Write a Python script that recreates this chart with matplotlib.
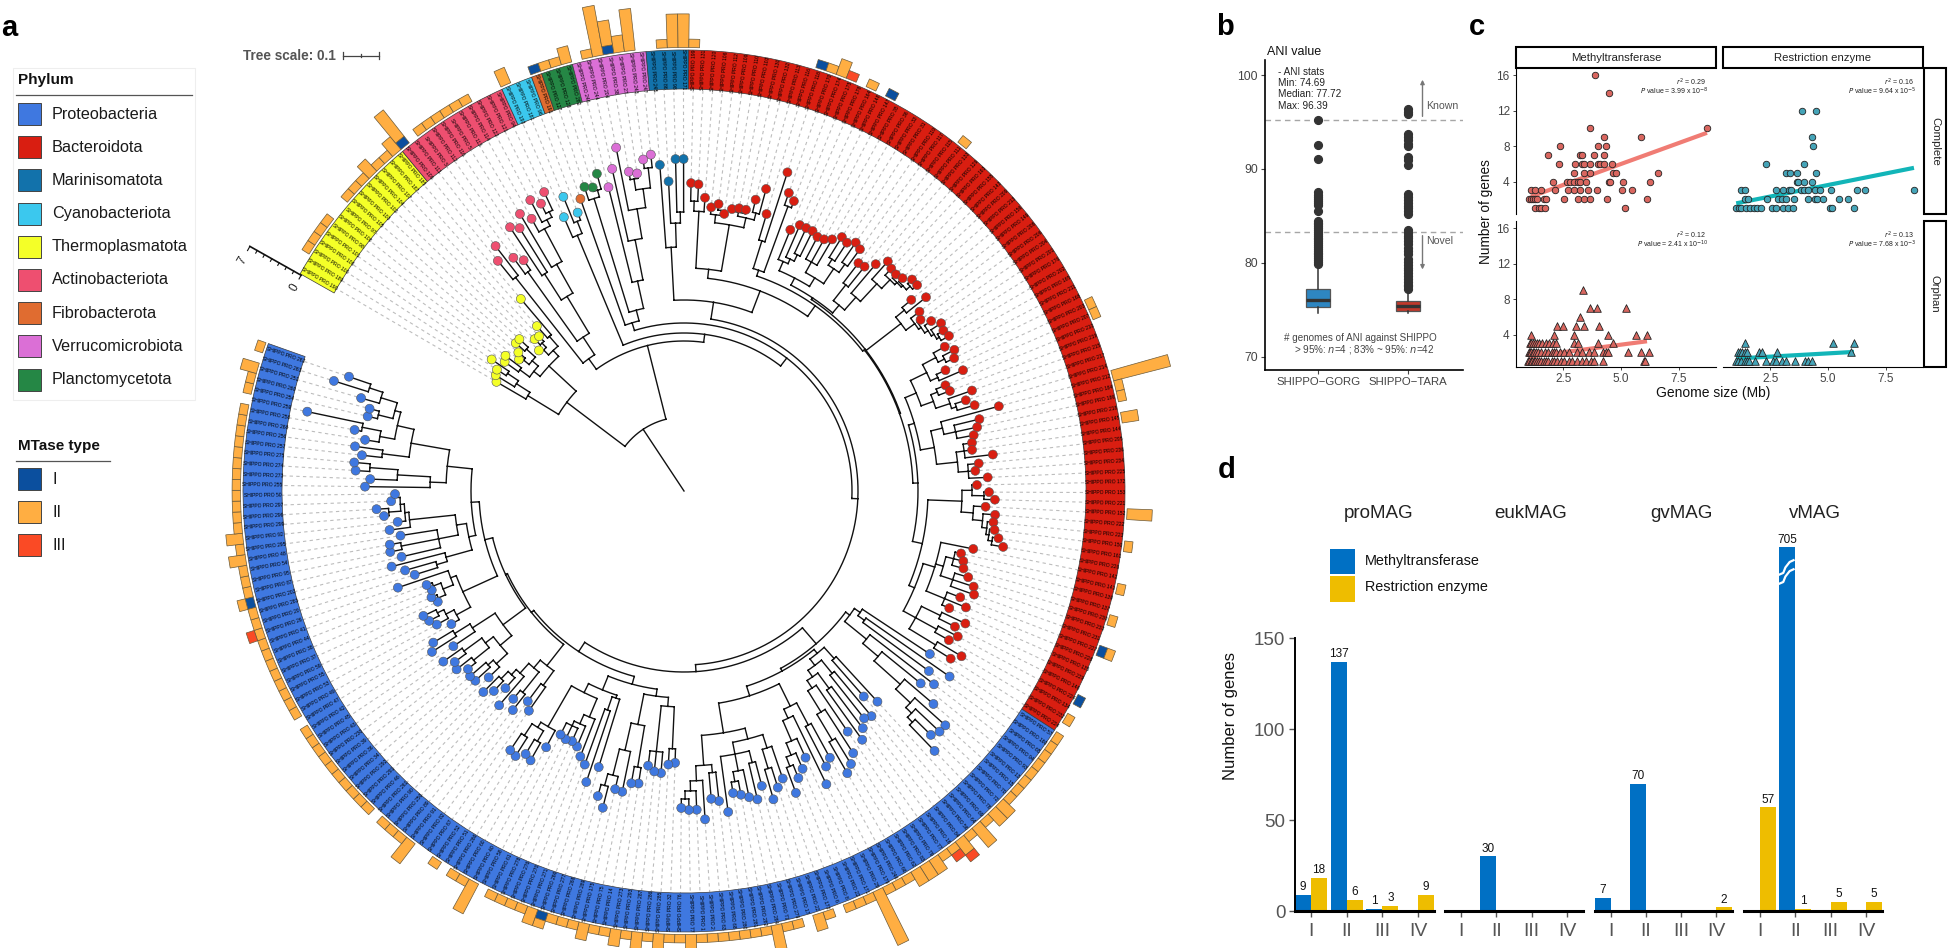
import numpy as np
import matplotlib
matplotlib.use("Agg")
import matplotlib.pyplot as plt
from matplotlib.patches import Rectangle

plt.rcParams['font.family'] = ['Liberation Sans', 'DejaVu Sans']

W, H = 1952, 948

# ---------- panel a data ----------
PHYLA = ['Proteobacteria', 'Bacteroidota', 'Marinisomatota', 'Cyanobacteriota', 'Thermoplasmatota',
         'Actinobacteriota', 'Fibrobacterota', 'Verrucomicrobiota', 'Planctomycetota']
PHYLUM_COLORS = ['#3F78E0', '#D91E11', '#1272AB', '#3BC8EE', '#F4FF28', '#EE4F70', '#E06C30', '#DB6FD6', '#258745']
# order of the phyla round the ring, clockwise from the scale ruler
RING_PHYLA = ['Thermoplasmatota', 'Actinobacteriota', 'Cyanobacteriota', 'Fibrobacterota', 'Planctomycetota',
              'Verrucomicrobiota', 'Marinisomatota', 'Bacteroidota', 'Proteobacteria']
RING_COUNTS = [15, 11, 3, 1, 3, 7, 4, 88, 120]
MTASE_TYPES = ['I', 'II', 'III']
MTASE_COLORS = ['#0B4F9E', '#FFAE42', '#FA4A25']

LEAF_IDS = [
    190, 189, 100, 106, 101, 98, 108, 97, 105, 103, 102, 104, 107, 187, 185, 109, 111, 3, 112, 116,
    5, 113, 114, 122, 121, 94, 193, 181, 96, 191, 127, 128, 282, 246, 244, 204, 38, 27, 243, 247,
    245, 86, 98, 171, 199, 131, 120, 106, 112, 109, 110, 103, 130, 132, 113, 116, 118, 170, 174, 175,
    178, 164, 148, 147, 35, 36, 33, 31, 119, 117, 115, 111, 133, 129, 163, 155, 143, 209, 213, 156,
    149, 208, 206, 204, 201, 176, 202, 165, 211, 168, 203, 207, 210, 219, 215, 217, 214, 212, 184, 186,
    218, 145, 144, 205, 236, 234, 225, 172, 153, 221, 152, 222, 223, 150, 161, 226, 142, 141, 139, 137,
    230, 233, 231, 227, 228, 135, 229, 146, 224, 134, 232, 224, 57, 160, 65, 94, 93, 13, 15, 70,
    72, 78, 69, 64, 56, 84, 16, 77, 79, 83, 62, 66, 246, 179, 29, 171, 22, 8, 6, 173,
    22, 17, 279, 71, 284, 282, 281, 280, 68, 63, 2, 1, 77, 76, 32, 285, 286, 287, 293, 273,
    14, 75, 175, 289, 268, 277, 266, 271, 270, 276, 278, 61, 58, 40, 60, 266, 51, 52, 67, 82,
    91, 89, 250, 90, 261, 46, 291, 292, 34, 36, 39, 230, 43, 45, 42, 47, 49, 53, 55, 59,
    37, 38, 44, 41, 26, 20, 283, 202, 87, 95, 54, 48, 295, 92, 299, 296, 297, 50, 255, 273,
    274, 275, 257, 256, 268, 258, 259, 254, 260, 251, 263, 262,
]

# number of type II genes per leaf
MTASE_II = [
    0, 0, 1, 1, 1, 1, 0, 0, 1, 1, 1, 2, 1, 1, 2, 4, 0, 1, 1, 1,
    1, 1, 1, 0, 0, 0, 2, 0, 0, 0, 1, 1, 2, 0, 1, 6, 3, 2, 5, 0,
    0, 1, 4, 4, 1, 0, 0, 0, 0, 0, 0, 0, 0, 0, 0, 0, 0, 1, 2, 0,
    0, 1, 0, 0, 0, 0, 0, 0, 0, 0, 0, 1, 0, 0, 0, 0, 0, 0, 0, 0,
    0, 0, 0, 0, 0, 0, 0, 0, 0, 0, 1, 1, 0, 0, 0, 0, 0, 7, 1, 1,
    0, 2, 0, 0, 0, 0, 0, 0, 0, 0, 3, 0, 0, 1, 0, 0, 0, 1, 0, 0,
    1, 0, 0, 1, 0, 0, 0, 0, 0, 0, 1, 0, 1, 1, 1, 1, 1, 1, 1, 1,
    2, 2, 1, 3, 1, 2, 1, 1, 2, 2, 2, 1, 1, 1, 7, 1, 1, 1, 0, 1,
    2, 0, 1, 1, 3, 1, 1, 1, 1, 1, 1, 1, 2, 1, 1, 2, 1, 2, 1, 2,
    1, 1, 2, 1, 1, 1, 1, 2, 1, 1, 1, 1, 0, 4, 1, 1, 0, 1, 0, 0,
    3, 1, 1, 1, 0, 1, 1, 1, 1, 1, 1, 1, 1, 1, 1, 0, 1, 1, 1, 1,
    1, 1, 1, 1, 1, 1, 1, 1, 1, 1, 1, 2, 1, 2, 1, 1, 1, 1, 1, 1,
    1, 1, 1, 1, 1, 1, 0, 1, 1, 2, 0, 1,
]
MTASE_I_LEAVES = [15, 29, 36, 56, 63, 123, 128, 186, 227]
MTASE_III_LEAVES = [59, 145, 146, 224]

# tree: every node is (depth, child, child, ...), every tip is its own depth
YELLOW = (147, (183, 217, (199, 221, (212, 223, 233))),
          (184, (192, (204, 221, 224), (200, (207, 211, 216), (212, 224, 224))),
           (192, (199, 202, (205, 213, 212)), (205, 221, 252))))
ACTINO = (163, (272, 296, 309),
          (184, (269, 289, 281), (227, (258, 316, 310), (260, 322, (297, 312, (304, 329, (310, 321, 330)))))))
CYANO = (277, 299, (290, 318, 298))
GREEN = (306, 320, (313, 317, 329))
PURPLE = (215, 313, (256, 330, (286, 350, (305, (316, 324, 321), (325, 334, 338)))))
MARIN = (244, 327, (268, 310, (279, 332, 332)))

R1 = (223, (280, (290, 308, 307), 294),
      (270, (278, 285, (283, 289, 280)), (280, (284, 286, 288, 288), (287, 300, 313))))
R2 = (233, (262, 289, 335), (303, 316, 310))
T1 = (240, (250, 282, (255, 290, (262, 290, 290))),
      (250, (262, 287, 288, 292), (268, (275, 299, 297), (278, 302, 299))))
T2 = (242, (262, 287, 288), (259, 297, (283, 307, (295, 304, (298, 303, (300, 305, (305, 311, 311)))))))
U1 = (274, (285, 297, 310), (285, 296, (288, 292, (292, 300, (295, 307, (298, 305, 307))))))
W1 = (252, (270, (285, 298, (292, 305, 301)), (278, 288, 304)),
      (265, (272, 282, 284), (280, 305, (285, 296, 303))))
X1 = (254, (266, 326, (278, 304, 300, 295)), (275, (283, 292, 291, 311), (285, 296, 292, 304)))
Y1 = (278, (288, 293, (300, 305, 311)), (290, 302, (300, 312, (305, 311, (308, 313, (312, 318, 324))))))
Y2 = (262, 295, (270, (278, 284, 288, 290), (283, 297, 305, 308)), (282, 296, 305, 290))
Y3 = (264, (285, 311, 303), (288, 310, 304), (295, 323, 315))
RED_REST = (234, (240, W1, X1), (244, Y1, (250, Y2, Y3)))
RED = (214, R1, (227, R2, (230, (232, T1, T2), (229, U1, RED_REST))))

C1 = (207, (214, 295, (222, 324, 304)),
      (235, 316, (255, 305, (290, 328, (310, 351, (318, 351, (325, 347, 361)))))))
D1 = (210, (225, 286, 273), (218, (235, 293, 290), (226, (245, 297, 306), (235, 291, (260, 312, (290, 320, 326))))))
G1 = (240, (265, 304, 310), (250, 326, (272, 293, (285, 302, (295, 309, 322)))))
G2 = (256, (270, 304, (290, 311, 321)), (268, (280, 305, 317), (285, 313, (295, 309, 306)), 324))
G3 = (275, (283, 312, 309), (290, 329, (300, 319, (308, 319, 317))))
D2 = (215, G1, (245, G2, G3))
FR = (216, (258, 272, 274), (262, 283, 282, 277))
FS = (238, (280, 296, 297), (266, 307, (293, 306, (305, 327, 317))))
F2 = (215, (218, 289, (232, 307, 291)),
      (225, (245, 285, (255, 277, (260, 274, 275, 273))), (272, 291, (278, (290, 310, 307), (292, 314, 312)))))
J1A = (222, (240, 269, 262), (232, (258, 278, 269), (245, 283, (252, 266, (262, 276, 284)))))
J1B = (225, (240, (255, 270, (262, 282, 283)), (250, (270, 280, 289), (272, 286, 295))), (252, 278, (270, 299, 293)))
J2 = (243, (259, 268, (268, 281, (275, 286, 289))), (249, (260, (268, 270, 274), (268, 271, 274)), 302))
J3 = (220, (247, (258, 282, 290), 302),
      (230, (250, 290, (288, 300, 299), 287), (276, 297, (280, 288, (284, (296, 301, 308), (290, 293, 289))))))
J4 = (238, (254, 319, (287, 314, (315, 329, 331))),
      (277, (304, 324, 332), (294, (309, 323, (328, 335, 385)), (300, (315, 325, 325), (317, 336, (331, 367, 354))))))
BLUE_LEFT = (195, J1A, (197, J1B, (205, J2, (213, J3, J4))))
BLUE = (181, (202, C1, (205, D1, D2)), (192, (200, (207, FR, FS), F2), BLUE_LEFT))

TREE = (74, YELLOW, (150, ACTINO, (158, CYANO, (168, (176, 310, (187, GREEN, PURPLE)),
                                                (174, (191, MARIN, RED), BLUE)))))

# ---------- panel b data ----------
BOX_NAMES = ['SHIPPO\u2212GORG', 'SHIPPO\u2212TARA']
BOX_COLORS = ['#2E86C1', '#C0392B']
BOX_Q1 = [75.35, 74.85]
BOX_MED = [76.0, 75.4]
BOX_Q3 = [77.2, 75.9]
BOX_LOW = [74.7, 74.7]
BOX_HIGH = [79.8, 77.0]
FLIERS_GORG = [79.9, 80.1, 80.3, 80.5, 80.7, 80.9, 81.1, 81.3, 81.5, 81.7, 81.9, 82.1, 82.3, 82.5, 82.7, 82.9,
               83.1, 83.3, 83.5, 83.7, 83.9, 84.1, 84.3, 84.5, 85.5, 86.2, 86.4, 86.6, 86.8, 87.0, 87.2, 87.5,
               91.1, 92.6, 95.2]
FLIERS_TARA = [77.2, 77.5, 77.7, 78.0, 78.3, 78.6, 78.9, 79.2, 79.5, 79.8, 80.1, 80.4, 81.0, 81.3, 81.6, 82.0,
               82.3, 82.6, 82.9, 83.2, 83.5, 85.2, 85.5, 85.8, 86.1, 86.4, 86.7, 87.0, 87.3, 90.4, 91.0, 91.3,
               92.4, 92.7, 93.1, 93.4, 93.7, 95.8, 96.1, 96.4]
ANI_CUTOFFS = [95.2, 83.3]

# ---------- panel c data ----------
MT_COMPLETE_X = [3.88, 4.48, 3.67, 8.71, 4.24, 5.84, 2.37, 3.99, 4.33, 1.86, 3.22, 3.33, 3.84, 4.24,
                 2.33, 3.01, 3.33, 3.39, 3.65, 4.0, 4.1, 4.24, 4.59, 2.97, 3.39, 3.65, 4.67, 4.8, 6.6,
                 2.07, 2.67, 2.8, 2.97, 3.14, 3.22, 3.5, 4.46, 4.52, 5.1, 6.27,
                 1.1, 1.3, 1.54, 2.16, 2.71, 2.97, 3.22, 3.56, 3.97, 5.03, 5.46,
                 1.01, 1.1, 1.18, 1.27, 1.37, 1.65, 1.76, 2.54, 3.14, 3.39, 3.67, 4.41, 6.12,
                 1.27, 1.44, 1.54, 1.73, 5.16]
MT_COMPLETE_Y = [16, 14, 10, 10, 9, 9, 8, 8, 8, 7, 7, 7, 7, 7,
                 6, 6, 6, 6, 6, 6, 6, 6, 6, 5, 5, 5, 5, 5, 5,
                 4, 4, 4, 4, 4, 4, 4, 4, 4, 4, 4,
                 3, 3, 3, 3, 3, 3, 3, 3, 3, 3, 3,
                 2, 2, 2, 2, 2, 2, 2, 2, 2, 2, 2, 2, 2,
                 1, 1, 1, 1, 1]
RE_COMPLETE_X = [3.88, 4.48, 4.29, 4.35, 2.31, 3.97, 3.2, 3.37, 3.67, 4.46, 3.65, 3.69, 3.97, 4.29,
                 1.24, 1.39, 2.73, 3.05, 3.33, 3.41, 3.84, 3.97, 4.12, 4.44, 4.65, 5.12, 6.27, 6.59, 8.71,
                 1.41, 1.56, 2.35, 2.84, 2.99, 3.2, 3.54, 4.12, 4.44, 4.54, 4.78, 5.48, 5.86,
                 1.03, 1.14, 1.24, 1.46, 1.63, 1.78, 1.93, 2.1, 2.59, 2.73, 3.05, 3.27, 3.48, 5.07, 5.18, 6.12]
RE_COMPLETE_Y = [12, 12, 9, 8, 6, 6, 5, 5, 5, 5, 4, 4, 4, 4,
                 3, 3, 3, 3, 3, 3, 3, 3, 3, 3, 3, 3, 3, 3, 3,
                 2, 2, 2, 2, 2, 2, 2, 2, 2, 2, 2, 2, 2,
                 1, 1, 1, 1, 1, 1, 1, 1, 1, 1, 1, 1, 1, 1, 1, 1]
MT_ORPHAN_X = [3.35, 3.65, 3.95, 5.22, 3.24, 2.22, 2.48, 3.05, 3.39, 4.05, 1.12, 2.12, 2.97, 4.44, 5.63, 6.1,
               1.05, 1.12, 1.2, 1.28, 1.36, 1.47, 1.6, 1.75, 1.9, 2.05, 2.2, 2.95, 3.15, 4.0, 4.65,
               1.0, 1.05, 1.1, 1.18, 1.25, 1.33, 1.42, 1.55, 1.7, 1.85, 2.0, 2.1, 2.2, 2.35, 2.55, 2.75, 3.1,
               3.3, 3.6, 3.85, 4.2, 4.35, 4.45, 5.3, 5.85, 6.2,
               0.98, 1.03, 1.1, 1.16, 1.22, 1.3, 1.38, 1.47, 1.55, 1.65, 1.75, 1.85, 2.0, 2.1, 2.25, 2.4, 2.55,
               2.75, 2.9, 3.1, 3.3, 3.5, 3.7, 3.85, 4.2, 6.0, 6.05]
MT_ORPHAN_Y = [9, 7, 7, 7, 6, 5, 5, 5, 5, 5, 4, 4, 4, 4, 4, 4,
               3, 3, 3, 3, 3, 3, 3, 3, 3, 3, 3, 3, 3, 3, 3,
               2, 2, 2, 2, 2, 2, 2, 2, 2, 2, 2, 2, 2, 2, 2, 2, 2,
               2, 2, 2, 2, 2, 2, 2, 2, 2,
               1, 1, 1, 1, 1, 1, 1, 1, 1, 1, 1, 1, 1, 1, 1, 1, 1,
               1, 1, 1, 1, 1, 1, 1, 1, 1, 1]
RE_ORPHAN_X = [1.4, 5.2, 6.1, 1.1, 1.2, 1.3, 1.4, 1.5, 2.0, 2.15, 2.8, 6.0,
               1.0, 1.1, 1.25, 1.4, 1.5, 1.6, 1.85, 2.3, 2.6, 2.75, 3.0, 3.2, 3.55, 4.0, 4.15, 4.3]
RE_ORPHAN_Y = [3, 3, 3, 2, 2, 2, 2, 2, 2, 2, 2, 2,
               1, 1, 1, 1, 1, 1, 1, 1, 1, 1, 1, 1, 1, 1, 1, 1]
FIT_X = [[1.1, 8.71], [1.03, 8.71], [1.0, 6.12], [1.03, 6.12]]
FIT_Y = [[2.3, 9.5], [1.55, 5.55], [1.5, 3.25], [1.3, 2.05]]
FIT_R2 = ['0.29', '0.16', '0.12', '0.13']
FIT_P = [('3.99', '-8'), ('9.64', '-5'), ('2.41', '-10'), ('7.68', '-3')]

# ---------- panel d data ----------
GROUPS = ['proMAG', 'eukMAG', 'gvMAG', 'vMAG']
KINDS = ['I', 'II', 'III', 'IV']
MT_GENES = [[9, 137, 1, 0], [0, 30, 0, 0], [7, 70, 0, 0], [0, 705, 0, 0]]
RE_GENES = [[18, 6, 3, 9], [0, 0, 0, 0], [0, 0, 0, 2], [57, 1, 5, 5]]
Y_CAP = 200


def px_axes(fig, left, top, right, bottom, **kw):
    return fig.add_axes([left / W, 1 - bottom / H, (right - left) / W, (bottom - top) / H], **kw)


fig = plt.figure(figsize=(W / 100, H / 100), dpi=100)

# ---------- panel a: circular tree ----------
CX, CY, R_MAX = 684, 491, 520
RING_IN, RING_OUT, BAR_BASE, BAR_UNIT = 402, 441, 443.5, 8.4
LEAF_START, LEAF_STEP = 149.8, 1.389

ax = px_axes(fig, CX - R_MAX, CY - R_MAX, CX + R_MAX, CY + R_MAX, projection='polar')
ax.set_ylim(0, R_MAX)
ax.set_axis_off()

tip_depth = []
tree_t, tree_r = [], []


def add_line(t, r):
    tree_t.extend(list(t) + [np.nan])
    tree_r.extend(list(r) + [np.nan])


def place(node):
    if isinstance(node, int):
        tip_depth.append(node)
        return LEAF_START - (len(tip_depth) - 1) * LEAF_STEP, node
    depth = node[0]
    kids = [place(c) for c in node[1:]]
    a0, a1 = kids[0][0], kids[-1][0]
    add_line(np.radians(np.linspace(a0, a1, max(3, int(abs(a0 - a1)) + 2))), [depth] * max(3, int(abs(a0 - a1)) + 2))
    for a, d in kids:
        add_line(np.radians([a, a]), [depth, d])
    return (a0 + a1) / 2, depth


root_angle, root_depth = place(TREE)
add_line(np.radians([root_angle, root_angle]), [0, root_depth])
n_leaves = len(tip_depth)

leaf_deg = LEAF_START - np.arange(n_leaves) * LEAF_STEP
leaf_rad = np.radians(leaf_deg)
step_rad = np.radians(LEAF_STEP)
tip_depth = np.array(tip_depth)
tip_colors = []
for name, count in zip(RING_PHYLA, RING_COUNTS):
    tip_colors += [PHYLUM_COLORS[PHYLA.index(name)]] * count

# dashed leaders, then the branches, then the tips
lead_t, lead_r = [], []
for a, d in zip(leaf_rad, tip_depth):
    lead_t += [a, a, np.nan]
    lead_r += [d + 4, RING_IN, np.nan]
ax.plot(lead_t, lead_r, color='#bdbdbd', lw=0.8, ls=(0, (3, 3)), zorder=1)
ax.plot(tree_t, tree_r, color='#111111', lw=1.0, zorder=2, solid_capstyle='projecting')
ax.scatter(leaf_rad, tip_depth, s=42, c=tip_colors, edgecolors='#555555', linewidths=0.4, zorder=3)

# phylum ring with the genome labels
first = 0
for name, count in zip(RING_PHYLA, RING_COUNTS):
    mid = LEAF_START - (first + (count - 1) / 2) * LEAF_STEP
    ax.bar(np.radians(mid), RING_OUT - RING_IN, width=count * step_rad, bottom=RING_IN,
           color=PHYLUM_COLORS[PHYLA.index(name)], edgecolor='#3a3a3a', linewidth=0.5, zorder=2)
    first += count
for a, leaf in zip(leaf_deg, LEAF_IDS):
    rot = a if np.cos(np.radians(a)) >= 0 else a + 180
    ax.text(np.radians(a), (RING_IN + RING_OUT) / 2, f'SHIPPO PRO {leaf}', rotation=rot, rotation_mode='anchor',
            ha='center', va='center', fontsize=3.6, color='#000000', zorder=4, clip_on=False)

# stacked MTase bars outside the ring
mt_i = np.zeros(n_leaves)
mt_i[MTASE_I_LEAVES] = 1
mt_ii = np.array(MTASE_II, dtype=float)
mt_iii = np.zeros(n_leaves)
mt_iii[MTASE_III_LEAVES] = 1
bottoms = np.zeros(n_leaves)
for values, color in zip([mt_i, mt_ii, mt_iii], MTASE_COLORS):
    keep = values > 0
    ax.bar(leaf_rad[keep], values[keep] * BAR_UNIT, width=step_rad, bottom=BAR_BASE + bottoms[keep] * BAR_UNIT,
           color=color, edgecolor='#6b5a3a', linewidth=0.5, zorder=3)
    bottoms += values

# ruler for the bars
ruler = np.radians(150.6)
ruler_stop = BAR_BASE + 7 * BAR_UNIT
ax.plot([ruler, ruler], [BAR_BASE - 4, ruler_stop - 4], color='#111111', lw=1.2, zorder=4)
for k in range(8):
    r_k = BAR_BASE - 4 + k * BAR_UNIT
    ax.plot([ruler, ruler + np.radians(0.55 if k in (0, 7) else 0.35)], [r_k, r_k], color='#111111', lw=0.8, zorder=4)
for k in (0, 7):
    ax.text(ruler + np.radians(1.9), BAR_BASE - 4 + k * BAR_UNIT, str(k), rotation=60, rotation_mode='anchor',
            ha='center', va='center', fontsize=8.5, color='#222222', clip_on=False)

# ---------- panel b: ANI boxplots ----------
ax_b = px_axes(fig, 1265, 60, 1463, 370)
stats = []
for i, fliers in enumerate([FLIERS_GORG, FLIERS_TARA]):
    stats.append(dict(med=BOX_MED[i], q1=BOX_Q1[i], q3=BOX_Q3[i], whislo=BOX_LOW[i], whishi=BOX_HIGH[i],
                      fliers=fliers, label=BOX_NAMES[i]))
parts = ax_b.bxp(stats, positions=[1, 2], widths=0.27, patch_artist=True, showcaps=False,
                 boxprops=dict(edgecolor='#555555', linewidth=0.9),
                 medianprops=dict(color='#333333', linewidth=2.4),
                 whiskerprops=dict(color='#333333', linewidth=1.1),
                 flierprops=dict(marker='o', markersize=5.6, markerfacecolor='#333333',
                                 markeredgecolor='#333333', linestyle='none'))
for box, color in zip(parts['boxes'], BOX_COLORS):
    box.set_facecolor(color)
for cut in ANI_CUTOFFS:
    ax_b.axhline(cut, color='#a6a6a6', lw=1.0, ls=(0, (4, 3)), zorder=0)
ax_b.set_xlim(0.41, 2.61)
ax_b.set_ylim(68.6, 101.6)
ax_b.set_yticks([70, 80, 90, 100])
ax_b.tick_params(axis='both', colors='#444444', length=3, width=0.8, pad=2)
ax_b.tick_params(axis='y', labelsize=8.7)
ax_b.tick_params(axis='x', labelsize=8.2)
for side in ('top', 'right'):
    ax_b.spines[side].set_visible(False)
for side in ('left', 'bottom'):
    ax_b.spines[side].set_linewidth(1.2)
ax_b.annotate('', xy=(2.16, 99.5), xytext=(2.16, 95.6),
              arrowprops=dict(arrowstyle='-|>', color='#777777', lw=1.0, mutation_scale=6, shrinkA=0, shrinkB=0))
ax_b.annotate('', xy=(2.16, 79.3), xytext=(2.16, 82.9),
              arrowprops=dict(arrowstyle='-|>', color='#777777', lw=1.0, mutation_scale=6, shrinkA=0, shrinkB=0))
ax_b.text(2.2, 96.7, 'Known', fontsize=7.6, color='#555555', va='center')
ax_b.text(2.2, 82.3, 'Novel', fontsize=7.6, color='#555555', va='center')

# ---------- panel c: genes against genome size ----------
COLUMN_X = [(1516, 1716), (1723, 1923)]
ROW_Y = [(68, 214), (221, 367)]
c_data = [(MT_COMPLETE_X, MT_COMPLETE_Y), (RE_COMPLETE_X, RE_COMPLETE_Y), (MT_ORPHAN_X, MT_ORPHAN_Y), (RE_ORPHAN_X, RE_ORPHAN_Y)]
c_face = ['#D9665F', '#45A4B8'] * 2
c_line = ['#F07C74', '#12B5B8'] * 2
c_mark = ['o', 'o', '^', '^']
for k, (xs, ys) in enumerate(c_data):
    row, col = k // 2, k % 2
    a = px_axes(fig, COLUMN_X[col][0], ROW_Y[row][0], COLUMN_X[col][1], ROW_Y[row][1])
    a.plot(FIT_X[k], FIT_Y[k], color=c_line[k], lw=3.0, solid_capstyle='butt', zorder=2)
    a.scatter(xs, ys, s=22 if row == 0 else 30, marker=c_mark[k], c=c_face[k], edgecolors='#222222',
              linewidths=0.6, zorder=3)
    a.set_xlim(0.46, 9.1)
    a.set_ylim(0.35, 16.8)
    a.set_xticks([2.5, 5.0, 7.5] if row == 1 else [])
    a.set_yticks([4, 8, 12, 16] if col == 0 else [])
    a.tick_params(axis='both', labelsize=8.5, colors='#444444', length=2.5, width=0.7, pad=2)
    for side in a.spines:
        a.spines[side].set_visible(False)
    if col == 0:
        a.spines['left'].set_visible(True)
    if row == 1:
        a.spines['bottom'].set_visible(True)
    a.patch.set_alpha(0)

# ---------- panel d: gene counts ----------
D_X = [(1295, 1434), (1445, 1583), (1595, 1732), (1744, 1882)]
for g, group in enumerate(GROUPS):
    a = px_axes(fig, D_X[g][0], 546, D_X[g][1], 911)
    spots = np.arange(len(KINDS))
    for values, shift, color in ((MT_GENES[g], -0.225, '#0070C4'), (RE_GENES[g], 0.225, '#EEBD00')):
        capped = np.minimum(values, Y_CAP)
        a.bar(spots + shift, capped, width=0.45, color=color, edgecolor='none', zorder=2)
        for x, v, c in zip(spots + shift, values, capped):
            if v > 0:
                a.text(x, c + 1, str(v), ha='center', va='bottom', fontsize=8.5, color='#111111')
    a.set_xlim(-0.45, 3.45)
    a.set_ylim(0, 200.8)
    a.set_xticks(spots)
    a.set_xticklabels(KINDS)
    a.tick_params(axis='x', labelsize=14, colors='#555555', length=4, width=1.0, pad=5)
    for side in ('top', 'right', 'left'):
        a.spines[side].set_visible(False)
    a.spines['bottom'].set_linewidth(2.2)
    a.patch.set_alpha(0)
    if g == 0:
        a.spines['left'].set_visible(True)
        a.spines['left'].set_bounds(0, 150)
        a.spines['left'].set_linewidth(1.4)
        a.set_yticks([0, 50, 100, 150])
        a.tick_params(axis='y', labelsize=13.5, colors='#555555', length=4, width=1.0, pad=3)
    else:
        a.set_yticks([])
    if group == 'vMAG':
        # break mark on the capped bar
        for lift in (0, 5):
            a.plot([0.54, 0.66, 0.72, 0.84, 0.95], [180 + lift, 181 + lift, 184 + lift, 187 + lift, 188 + lift],
                   color='white', lw=1.6, zorder=3)

# ---------- everything placed by hand goes on a pixel overlay ----------
ov = fig.add_axes([0, 0, 1, 1])
ov.set_xlim(0, W)
ov.set_ylim(H, 0)
ov.set_axis_off()
ov.patch.set_alpha(0)

for letter, x, y in (('a', 1, 36), ('b', 1216, 35), ('c', 1469, 35), ('d', 1218, 478)):
    ov.text(x, y, letter, fontsize=21, fontweight='bold', color='black', va='baseline')

# phylum legend
ov.add_patch(Rectangle((13, 68), 182, 332, facecolor='white', edgecolor='#eeeeee', lw=0.8, zorder=0))
ov.text(18, 80, 'Phylum', fontsize=11, fontweight='bold', va='center', color='#111111')
ov.plot([16, 192], [95, 95], color='#555555', lw=0.9)
for i, (name, color) in enumerate(zip(PHYLA, PHYLUM_COLORS)):
    y = 114 + i * 33.2
    ov.add_patch(Rectangle((18, y - 11), 23, 22, facecolor=color, edgecolor='#444444', lw=0.7))
    ov.text(52, y, name, fontsize=11.7, va='center', color='#1a1a1a')
# MTase legend
ov.text(18, 446, 'MTase type', fontsize=11, fontweight='bold', va='center', color='#111111')
ov.plot([16, 110], [460.5, 460.5], color='#555555', lw=0.9)
for i, (name, color) in enumerate(zip(MTASE_TYPES, MTASE_COLORS)):
    y = 479 + i * 33.2
    ov.add_patch(Rectangle((18, y - 11), 23, 22, facecolor=color, edgecolor='#444444', lw=0.7))
    ov.text(52, y, name, fontsize=11.7, va='center', color='#1a1a1a')

# tree scale
ov.text(243, 55.5, 'Tree scale: 0.1', fontsize=9.8, fontweight='bold', color='#555555', va='center')
ov.plot([343, 379], [55.5, 55.5], color='#444444', lw=0.9)
for x, half in ((343, 3.5), (361, 1.5), (379, 3.5)):
    ov.plot([x, x], [55.5 - half, 55.5 + half], color='#444444', lw=0.9)

# panel b texts
ov.text(1267, 52, 'ANI value', fontsize=9, va='center', color='#111111')
for y, line in zip((72, 83, 94, 106), ('- ANI stats', 'Min: 74.69', 'Median: 77.72', 'Max: 96.39')):
    ov.text(1277.5, y, line, fontsize=7.2, va='center', color='#222222')
ov.text(1284, 338, '# genomes of ANI against SHIPPO', fontsize=7.1, va='center', color='#444444')
ov.text(1294, 350, '> 95%: $\\mathit{n}$=4 ; 83% ~ 95%: $\\mathit{n}$=42', fontsize=7.1, va='center', color='#444444')

# panel c strips and texts
for (x0, x1), name in zip(COLUMN_X, ('Methyltransferase', 'Restriction enzyme')):
    ov.add_patch(Rectangle((x0, 47), x1 - x0, 21, facecolor='white', edgecolor='black', lw=1.5))
    ov.text((x0 + x1) / 2, 57.5, name, fontsize=8.2, ha='center', va='center', color='#222222')
for (y0, y1), name in zip(ROW_Y, ('Complete', 'Orphan')):
    ov.add_patch(Rectangle((1924, y0), 22, y1 - y0, facecolor='white', edgecolor='black', lw=1.5))
    ov.text(1935, (y0 + y1) / 2, name, fontsize=8.2, rotation=270, ha='center', va='center', color='#222222')
ov.text(1486, 212, 'Number of genes', fontsize=9.8, rotation=90, ha='center', va='center', color='#111111')
ov.text(1713, 393, 'Genome size (Mb)', fontsize=10, ha='center', va='center', color='#111111')
stat_x = [1706, 1914, 1706, 1914]
stat_y = [82, 82, 235, 235]
for k in range(4):
    ov.text(stat_x[k], stat_y[k], f'$\\mathit{{r}}^2$ = {FIT_R2[k]}', fontsize=5, ha='right', va='center', color='#222222')
    ov.text(stat_x[k] + 3, stat_y[k] + 9.5, f'$\\mathit{{P}}$ value = {FIT_P[k][0]} x 10$^{{{FIT_P[k][1]}}}$',
            fontsize=5, ha='right', va='center', color='#222222')

# panel d texts
for x, group in zip((1379, 1531, 1681, 1815), GROUPS):
    ov.text(x, 513, group, fontsize=13.5, ha='center', va='center', color='#222222')
ov.add_patch(Rectangle((1329.5, 549), 25.5, 25, facecolor='#0070C4', edgecolor='none'))
ov.add_patch(Rectangle((1329.5, 576), 25.5, 26, facecolor='#EEBD00', edgecolor='none'))
ov.text(1365, 561.5, 'Methyltransferase', fontsize=10.4, va='center', color='#111111')
ov.text(1365, 587, 'Restriction enzyme', fontsize=10.4, va='center', color='#111111')
ov.text(1231, 716, 'Number of genes', fontsize=12, rotation=90, ha='center', va='center', color='#111111')

fig.savefig('out.png', dpi=100)
